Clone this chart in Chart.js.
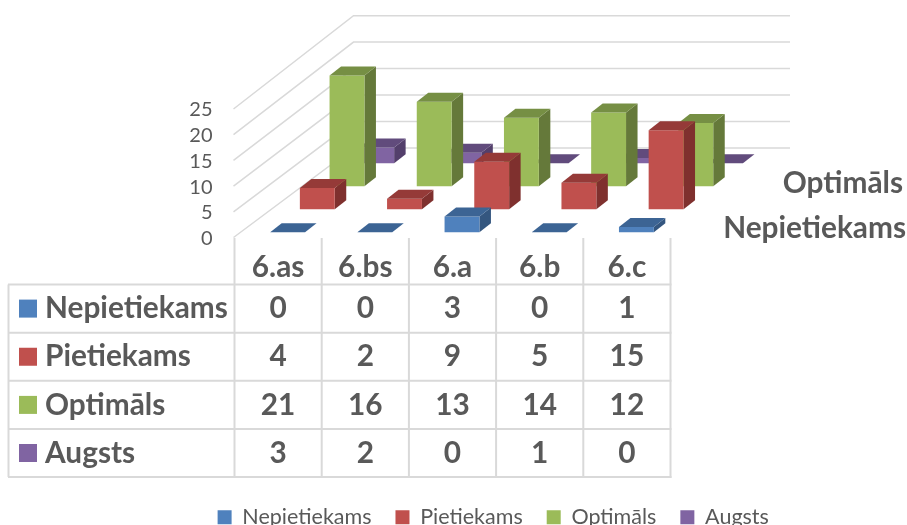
<!DOCTYPE html>
<html><head><meta charset="utf-8">
<script src="https://cdn.jsdelivr.net/npm/chart.js@4"></script>
<style>html,body{margin:0;padding:0;background:#fff}canvas{display:block}</style>
</head><body><canvas id="c" width="907" height="525"></canvas>
<script>
const categories = ['6.as','6.bs','6.a','6.b','6.c'];
const seriesNames = ['Nepietiekams','Pietiekams','Optimāls','Augsts'];
const nepietiekams = [0,0,3,0,1];
const pietiekams = [4,2,9,5,15];
const optimals = [21,16,13,14,12];
const augsts = [3,2,0,1,0];
const seriesValues = [nepietiekams,pietiekams,optimals,augsts];
const depthLabels = [['Optimāls',903,183],['Nepietiekams',906,228]];
const frontColors = ['#4F81BD','#C0504D','#9BBB59','#8064A2'];
const topColors = ['#3C6494','#953A38','#768F44','#614B7C'];
const sideColors = ['#34567F','#7F302E','#65793A','#533F6B'];
const GREY = '#595959', GRID = '#D9D9D9';
const BOLD = 'bold 29.8px Lato', FONT = 'Lato';
const LEGEND_DX = 158, LEGEND_DY = 13;

let currentSeries = 0;
Chart.BarElement.prototype.draw = function(ctx){
  const i = currentSeries;
  const ox = 9.5 + 29.7*i, oy = -(6.3 + 23*i), dx = 11.5, dy = -9;
  const l = this.x - this.width/2 + ox, r = this.x + this.width/2 + ox;
  const t = this.y + oy, b = this.base + oy;
  const poly = (pts,c)=>{ctx.fillStyle=c;ctx.beginPath();pts.forEach((p,k)=>k?ctx.lineTo(p[0],p[1]):ctx.moveTo(p[0],p[1]));ctx.closePath();ctx.fill();};
  ctx.save();
  if (b-t > 0.5) {
    poly([[r,t],[r+dx,t+dy],[r+dx,b+dy],[r,b]], sideColors[i]);
    poly([[l,t],[r,t],[r,b],[l,b]], frontColors[i]);
  }
  poly([[l,t],[l+dx,t+dy],[r+dx,t+dy],[r,t]], topColors[i]);
  ctx.restore();
};

const box3d = {
  id:'box3d',
  afterLayout(chart){
    const lg = chart.legend;
    lg.left += LEGEND_DX; lg.right += LEGEND_DX; lg.top += LEGEND_DY; lg.bottom += LEGEND_DY;
  },
  beforeDatasetDraw(chart,args){ currentSeries = args.index; },
  beforeDatasetsDraw(chart){
    const {ctx,scales:{y}} = chart, left = chart.chartArea.left;
    ctx.save();
    ctx.strokeStyle = GRID; ctx.lineWidth = 1.5;
    y.ticks.forEach(t=>{
      const raw = y.getPixelForValue(t.value);
      const fy = raw - 1;
      const by = 148 - (y.getPixelForValue(0)-raw)*1.03;
      ctx.beginPath();ctx.moveTo(left-1,fy);ctx.lineTo(left+119,by);ctx.lineTo(790,by);ctx.stroke();
    });
    ctx.restore();
  },
  afterDraw(chart){
    const {ctx,scales:{x},chartArea:{left,right}} = chart;
    const rows = [284.5,332.7,380.8,429,477];
    ctx.save();
    ctx.strokeStyle = GRID; ctx.lineWidth = 2;
    categories.forEach((c,k)=>{
      const px = x.getPixelForValue(k)-x.width/categories.length/2;
      ctx.beginPath();ctx.moveTo(px,238);ctx.lineTo(px,477);ctx.stroke();
    });
    ctx.beginPath();ctx.moveTo(right,238);ctx.lineTo(right,478);ctx.stroke();
    ctx.beginPath();ctx.moveTo(8.5,rows[0]);ctx.lineTo(8.5,477);ctx.stroke();
    rows.forEach(r=>{ctx.beginPath();ctx.moveTo(8,r);ctx.lineTo(right+1,r);ctx.stroke();});
    ctx.textBaseline='middle';
    ctx.font=BOLD;
    seriesNames.forEach((n,s)=>{
      const cy=(rows[s]+rows[s+1])/2;
      ctx.fillStyle=frontColors[s];ctx.fillRect(19,cy-9,18,18);
      ctx.fillStyle=GREY;ctx.textAlign='left';ctx.fillText(n,45,cy);
      ctx.textAlign='center';
      seriesValues[s].forEach((v,k)=>ctx.fillText(String(v),x.getPixelForValue(k),cy));
    });
    ctx.textAlign='right';
    depthLabels.forEach(d=>ctx.fillText(d[0],d[1],d[2]));
    ctx.restore();
  }
};

new Chart(document.getElementById('c'),{
  type:'bar',
  data:{labels:categories,datasets:seriesNames.map((n,s)=>({
    label:n,data:seriesValues[s],backgroundColor:frontColors[s],borderWidth:0,
    yAxisID:'y2',clip:false,grouped:false,barPercentage:0.4,categoryPercentage:1
  }))},
  options:{
    responsive:false,animation:false,
    layout:{padding:{left:0,right:236.5,top:110,bottom:0}},
    scales:{
      x:{grid:{display:false,drawTicks:false},border:{display:false},
         ticks:{color:GREY,font:{family:FONT,weight:'bold',size:29.8},padding:11,maxRotation:0},
         afterFit(s){s.height=231;}},
      y:{position:'left',min:0,max:25,grid:{display:false,drawTicks:false},border:{display:false},
         ticks:{stepSize:5,autoSkip:false,color:GREY,font:{family:FONT,size:20},padding:22},
         afterFit(s){s.width=234.5;}},
      y2:{display:false,min:0,max:128/5.25}
    },
    plugins:{
      tooltip:{enabled:false},
      legend:{position:'bottom',labels:{boxWidth:14,boxHeight:14,padding:24,color:GREY,font:{family:FONT,size:21.5}}}
    }
  },
  plugins:[box3d]
});
</script></body></html>
